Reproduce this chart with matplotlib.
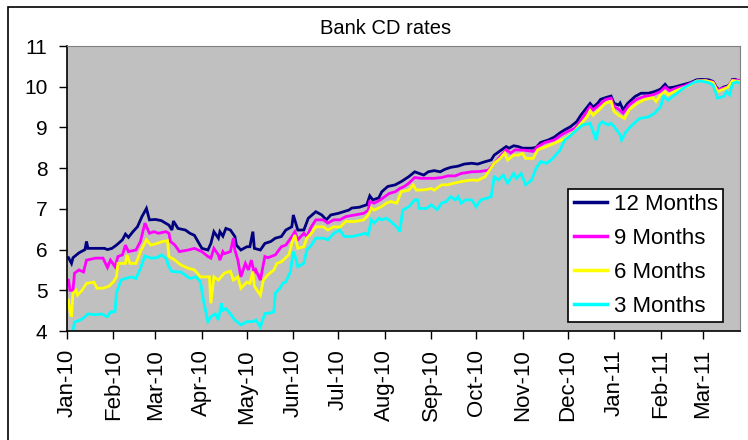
import numpy as np
import pandas as pd
import matplotlib
matplotlib.use("Agg")
import matplotlib.pyplot as plt
import matplotlib.dates as mdates
from matplotlib.patches import Rectangle

plt.rcParams['font.family'] = ['Liberation Sans', 'DejaVu Sans']

start = pd.Timestamp('2010-01-01')

# days since 2010-01-01 and rates
d12 = [1, 3, 4, 8, 12, 13, 14, 25, 27, 30, 33, 37, 39, 41, 44, 47, 50, 53, 55, 59, 63, 68, 70, 71, 74,
       79, 82, 85, 90, 94, 96, 98, 101, 102, 104, 106, 109, 112, 113, 116, 120, 122, 124, 125, 129,
       132, 136, 139, 143, 146, 150, 151, 154, 158, 161, 166, 170, 173, 176, 181, 188, 190, 195, 200,
       202, 204, 208, 210, 214, 219, 223, 228, 232, 235, 238, 241, 245, 249, 252, 256, 261, 265, 270,
       274, 279, 283, 285, 290, 293, 295, 298, 301, 304, 310, 313, 316, 321, 325, 329, 332, 336, 340,
       343, 346, 349, 351, 354, 356, 360, 363, 365, 368, 369, 371, 374, 379, 383, 388, 392, 396, 399,
       401, 405, 410, 413, 416, 420, 423, 428, 431, 433, 435, 438, 441, 443, 444, 446, 448]
v12 = [5.8, 5.66, 5.8, 5.92, 6.0, 6.2, 6.03, 6.03, 6.0, 6.03, 6.11, 6.24, 6.38, 6.3, 6.44, 6.56, 6.81,
       7.01, 6.73, 6.74, 6.71, 6.6, 6.48, 6.7, 6.52, 6.48, 6.4, 6.35, 6.03, 5.99, 6.15, 6.44, 6.28,
       6.44, 6.33, 6.52, 6.48, 6.32, 6.11, 5.99, 6.07, 6.07, 6.44, 6.03, 5.99, 6.15, 6.2, 6.28, 6.32,
       6.48, 6.56, 6.85, 6.48, 6.48, 6.77, 6.93, 6.85, 6.73, 6.85, 6.89, 6.97, 7.02, 7.04, 7.1, 7.32,
       7.22, 7.27, 7.42, 7.55, 7.59, 7.67, 7.79, 7.91, 7.87, 7.83, 7.91, 7.94, 7.91, 7.97, 8.02, 8.05,
       8.1, 8.12, 8.1, 8.16, 8.2, 8.32, 8.45, 8.53, 8.49, 8.55, 8.53, 8.49, 8.49, 8.51, 8.63, 8.69,
       8.76, 8.87, 8.94, 9.02, 9.14, 9.31, 9.45, 9.59, 9.5, 9.59, 9.69, 9.74, 9.77, 9.59, 9.55, 9.6,
       9.43, 9.59, 9.76, 9.84, 9.84, 9.88, 9.94, 10.06, 9.97, 9.99, 10.04, 10.07, 10.1, 10.17, 10.18,
       10.17, 10.13, 10.0, 9.92, 9.99, 10.02, 10.1, 10.18, 10.18, 10.13]

d9 = [1, 2, 4, 5, 8, 11, 13, 19, 24, 27, 29, 32, 34, 37, 39, 41, 46, 49, 52, 55, 58, 61, 66, 68, 69,
      72, 75, 81, 85, 90, 94, 96, 98, 101, 102, 104, 105, 109, 111, 112, 114, 116, 119, 121, 123, 125,
      126, 129, 132, 134, 139, 143, 146, 150, 152, 154, 158, 160, 163, 166, 171, 174, 178, 182, 186,
      192, 198, 201, 202, 205, 209, 212, 215, 219, 222, 225, 228, 232, 236, 245, 250, 254, 259, 263,
      270, 276, 281, 284, 288, 291, 293, 296, 299, 305, 311, 314, 319, 325, 330, 334, 339, 343, 346,
      349, 351, 355, 359, 363, 365, 368, 371, 375, 380, 385, 391, 396, 399, 402, 407, 412, 417, 421,
      426, 431, 434, 438, 441, 444, 448]
v9 = [5.25, 5.0, 5.0, 5.42, 5.5, 5.45, 5.74, 5.79, 5.79, 5.56, 5.74, 5.58, 5.83, 5.87, 6.11, 5.95,
      5.99, 6.2, 6.65, 6.4, 6.44, 6.4, 6.44, 6.4, 6.2, 6.11, 5.95, 5.99, 6.03, 5.95, 5.83, 5.79, 6.03,
      5.87, 5.74, 5.95, 5.9, 5.95, 6.28, 5.99, 5.74, 5.33, 5.66, 5.5, 5.74, 5.42, 5.5, 5.25, 5.83, 5.8,
      5.87, 6.07, 6.11, 6.32, 6.44, 6.24, 6.4, 6.32, 6.56, 6.73, 6.73, 6.65, 6.73, 6.73, 6.81, 6.85,
      6.89, 6.97, 7.18, 7.14, 7.22, 7.3, 7.38, 7.42, 7.5, 7.55, 7.63, 7.77, 7.75, 7.75, 7.77, 7.81,
      7.81, 7.87, 7.91, 7.92, 7.95, 8.08, 8.24, 8.37, 8.45, 8.37, 8.45, 8.44, 8.41, 8.53, 8.63, 8.69,
      8.82, 8.9, 8.98, 9.18, 9.35, 9.51, 9.43, 9.55, 9.68, 9.72, 9.51, 9.45, 9.35, 9.55, 9.69, 9.76,
      9.8, 9.88, 9.99, 9.9, 9.97, 10.02, 10.1, 10.15, 10.15, 10.12, 9.92, 9.97, 10.0, 10.16, 10.16]

d6 = [1, 2, 3, 4, 6, 7, 10, 13, 18, 20, 24, 28, 31, 33, 34, 39, 40, 42, 46, 49, 53, 56, 60, 64, 67,
      68, 72, 76, 81, 85, 89, 95, 96, 98, 101, 105, 109, 111, 114, 116, 120, 122, 124, 125, 129, 131,
      134, 138, 140, 143, 148, 150, 152, 154, 158, 160, 163, 166, 171, 174, 178, 182, 186, 192, 198,
      201, 203, 205, 210, 213, 216, 220, 223, 228, 231, 233, 239, 243, 245, 250, 254, 258, 263, 270,
      274, 279, 282, 285, 289, 292, 294, 298, 301, 304, 306, 311, 314, 320, 325, 330, 334, 339, 343,
      347, 349, 351, 355, 359, 363, 365, 368, 372, 375, 380, 385, 391, 393, 396, 399, 401, 405, 411,
      415, 420, 426, 431, 434, 438, 441, 444, 448]
v6 = [4.76, 4.47, 4.35, 4.93, 5.0, 4.88, 5.0, 5.17, 5.2, 5.05, 5.05, 5.1, 5.21, 5.33, 5.66, 5.66,
      5.87, 5.66, 5.66, 5.95, 6.24, 6.11, 6.15, 6.2, 6.22, 5.83, 5.74, 5.62, 5.54, 5.5, 5.33, 5.33,
      4.68, 5.33, 5.25, 5.42, 5.47, 5.25, 5.33, 5.05, 5.2, 5.17, 5.46, 5.1, 4.88, 5.25, 5.38, 5.5,
      5.66, 5.7, 5.87, 6.15, 6.36, 6.03, 6.07, 6.28, 6.4, 6.56, 6.56, 6.48, 6.56, 6.55, 6.69, 6.69,
      6.73, 6.85, 7.02, 6.97, 7.06, 7.14, 7.18, 7.14, 7.42, 7.46, 7.59, 7.46, 7.47, 7.5, 7.46, 7.59,
      7.59, 7.63, 7.67, 7.71, 7.7, 7.79, 7.96, 8.12, 8.24, 8.37, 8.2, 8.32, 8.32, 8.36, 8.24, 8.24,
      8.45, 8.53, 8.61, 8.69, 8.76, 8.92, 9.1, 9.26, 9.41, 9.3, 9.43, 9.59, 9.64, 9.39, 9.3, 9.22,
      9.43, 9.58, 9.68, 9.73, 9.64, 9.8, 9.88, 9.8, 9.88, 9.97, 10.02, 10.14, 10.15, 10.1, 9.88, 9.94,
      9.99, 10.15, 10.13]

d3 = [3, 5, 9, 12, 14, 19, 23, 27, 29, 32, 33, 36, 39, 43, 46, 49, 52, 56, 60, 63, 66, 68, 70, 76,
      82, 86, 89, 91, 94, 96, 99, 101, 103, 104, 106, 109, 112, 116, 120, 124, 126, 129, 132, 135,
      138, 139, 142, 144, 146, 149, 151, 153, 154, 158, 160, 163, 166, 171, 174, 178, 182, 185, 190,
      195, 199, 201, 203, 205, 208, 210, 213, 216, 220, 222, 224, 228, 232, 234, 235, 240, 243, 247,
      250, 253, 256, 259, 261, 263, 266, 270, 273, 276, 280, 283, 285, 288, 291, 294, 298, 300, 303,
      306, 310, 313, 316, 320, 323, 326, 329, 332, 335, 340, 344, 349, 351, 353, 355, 357, 361, 363,
      365, 369, 370, 373, 377, 382, 388, 392, 396, 398, 401, 404, 407, 411, 414, 419, 423, 428, 431,
      433, 434, 438, 440, 442, 444, 447, 448]
v3 = [3.8, 4.22, 4.27, 4.35, 4.42, 4.4, 4.42, 4.35, 4.47, 4.47, 4.93, 5.25, 5.29, 5.33, 5.29, 5.54,
      5.84, 5.79, 5.8, 5.87, 5.79, 5.58, 5.46, 5.45, 5.29, 5.33, 5.21, 4.76, 4.23, 4.35, 4.42, 4.27,
      4.68, 4.51, 4.55, 4.42, 4.27, 4.15, 4.23, 4.23, 4.27, 4.1, 4.43, 4.44, 4.47, 4.93, 5.05, 5.17,
      5.21, 5.45, 5.95, 5.74, 5.58, 5.66, 5.99, 6.11, 6.28, 6.28, 6.24, 6.4, 6.48, 6.32, 6.32, 6.36,
      6.4, 6.36, 6.73, 6.65, 6.77, 6.73, 6.77, 6.69, 6.56, 6.44, 6.97, 7.05, 7.22, 7.22, 7.01, 7.01,
      7.1, 6.98, 7.14, 7.18, 7.3, 7.22, 7.3, 7.14, 7.22, 7.22, 7.05, 7.22, 7.26, 7.3, 7.79, 7.71, 7.83,
      7.63, 7.87, 7.75, 7.87, 7.59, 7.71, 8.0, 8.16, 8.12, 8.2, 8.32, 8.45, 8.69, 8.77, 8.94, 9.06,
      9.1, 8.9, 8.69, 9.06, 9.14, 9.06, 9.1, 9.02, 8.82, 8.69, 8.9, 9.06, 9.22, 9.26, 9.35, 9.51, 9.76,
      9.67, 9.76, 9.84, 9.96, 10.02, 10.12, 10.14, 10.1, 10.04, 9.84, 9.72, 9.76, 9.88, 9.8, 10.08,
      10.12, 10.1]

series = [(d12, v12, '12 Months', '#000080'),
          (d9, v9, '9 Months', '#FF00FF'),
          (d6, v6, '6 Months', '#FFFF00'),
          (d3, v3, '3 Months', '#00FFFF')]

fig = plt.figure(figsize=(7.48, 4.4), dpi=100)
ax = fig.add_axes([67/748, 1-331/440, 673/748, 285/440])
ax.set_facecolor('#C0C0C0')

for d, v, name, col in series:
    dates = start + pd.to_timedelta(d, unit='D')
    ax.plot(dates, v, color=col, lw=2.0, label=name, solid_joinstyle='miter')

ax.set_ylim(4, 11)
ax.set_yticks(range(4, 12))
ax.set_xlim(start, start + pd.Timedelta(days=449))
ax.xaxis.set_major_locator(mdates.MonthLocator())
ax.xaxis.set_major_formatter(mdates.DateFormatter('%b-%y'))
ax.tick_params(axis='x', rotation=90, labelsize=16, length=6, width=1, pad=7, direction='out')
ax.tick_params(axis='y', labelsize=15, length=6, width=1, pad=8, direction='out')
for s in ['top', 'right']:
    ax.spines[s].set_color('#808080')
for s in ['left', 'bottom']:
    ax.spines[s].set_color('black')
    ax.spines[s].set_linewidth(1.2)

leg = ax.legend(loc='lower right', bbox_to_anchor=(0.975, 0.03), fontsize=16, frameon=True,
                fancybox=False, framealpha=1, edgecolor='black', handlelength=1.5,
                handletextpad=0.3, labelspacing=0.58, borderpad=0.25, borderaxespad=0)
leg.get_frame().set_linewidth(1.2)
for line in leg.get_lines():
    line.set_linewidth(2.5)

fig.text(386/748, 1-28/440, 'Bank CD rates', ha='center', va='center', fontsize=14.5)

# outer chart border
fig.patches.append(Rectangle((8/748, -0.05), 1.0, 1.05-7/440, transform=fig.transFigure,
                             fill=False, edgecolor='black', lw=1.2))

fig.savefig('out.png', dpi=100)
